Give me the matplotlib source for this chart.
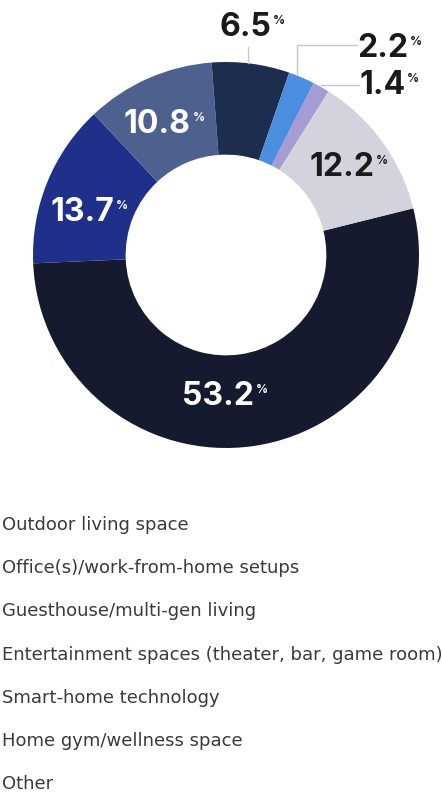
import numpy as np
import matplotlib.pyplot as plt

categories = ['Outdoor living space', 'Office(s)/work-from-home setups',
              'Guesthouse/multi-gen living',
              'Entertainment spaces (theater, bar, game room)',
              'Smart-home technology', 'Home gym/wellness space', 'Other']
shares = [53.2, 13.7, 10.8, 6.5, 2.2, 1.4, 12.2]
colors = ['#161a2e', '#20308a', '#4e618e', '#1d2d4e', '#4b8ee0', '#a59cd3', '#d3d3de']

fig = plt.figure(figsize=(4.42, 7.95), dpi=100)
# donut centre ~ (226, 255) px, radius ~193 px
ax = fig.add_axes([33 / 442, 1 - 448 / 795, 386 / 442, 386 / 795])
wedges, _ = ax.pie(shares, colors=colors, startangle=14, counterclock=False,
                   radius=1, wedgeprops=dict(width=0.48, linewidth=0))
ax.set_xlim(-1, 1)
ax.set_ylim(-1, 1)
ax.set_aspect('equal')
ax.axis('off')

bold = dict(fontweight='bold', family=['Inter', 'DejaVu Sans'])


def label(x, y, val, color):
    t = ax.text(x, y, f'{val:.1f}', ha='center', va='center', fontsize=23,
                color=color, **bold)
    ax.annotate('%', xy=(1.03, 0.9), xycoords=t, ha='left', va='top', fontsize=8.5,
                color=color, **bold)


# labels inside the ring (nudges in data units)
nudge = {53.2: (-0.15, 0.0), 13.7: (-0.06, -0.06), 10.8: (-0.06, 0.0), 12.2: (0.0, 0.02)}
for w, val in zip(wedges, shares):
    if val not in nudge:
        continue
    mid = np.deg2rad((w.theta1 + w.theta2) / 2)
    dx, dy = nudge[val]
    col = '#1a1a1a' if val == 12.2 else 'white'
    label(0.74 * np.cos(mid) + dx, 0.74 * np.sin(mid) + dy, val, col)

# small slices, labelled outside with leader lines
line_kw = dict(color='#c8c8c8', lw=1, clip_on=False)
ax.plot([0.114, 0.114], [0.995, 1.08], **line_kw)
label(0.1, 1.18, shares[3], '#1a1a1a')
ax.plot([0.368, 0.368, 0.68], [0.94, 1.088, 1.088], **line_kw)
label(0.81, 1.07, shares[4], '#1a1a1a')
ax.plot([0.49, 0.69], [0.88, 0.88], **line_kw)
label(0.81, 0.88, shares[5], '#1a1a1a')

# legend text
for i, name in enumerate(categories):
    y = 1 - (525 + i * 43.2) / 795
    fig.text(2 / 442, y, name, ha='left', va='center', fontsize=13,
             family=['DejaVu Sans'], color='#3a3a3a')

fig.savefig('out.png', dpi=100)
